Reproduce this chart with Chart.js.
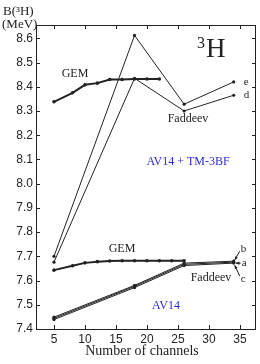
<!DOCTYPE html>
<html>
<head>
<meta charset="utf-8">
<script src="https://cdn.jsdelivr.net/npm/chart.js@4"></script>
<style>
  html, body { margin: 0; padding: 0; background: #fff; }
  #wrap { width: 260px; height: 364px; }
</style>
</head>
<body>
<div id="wrap"><canvas id="c" width="260" height="364"></canvas></div>
<script>
// tick labels
const xTicks = [5, 10, 15, 20, 25, 30, 35];
const yTicks = [7.4, 7.5, 7.6, 7.7, 7.8, 7.9, 8.0, 8.1, 8.2, 8.3, 8.4, 8.5, 8.6];

// AV14 + TM-3BF
const gemTmX = [5, 8, 10, 12, 14, 16, 18, 20, 22];
const gemTmY = [8.338, 8.375, 8.408, 8.415, 8.43, 8.43, 8.432, 8.432, 8.432];
const fadX = [5, 18, 26, 34];
const fadE = [7.700, 8.612, 8.328, 8.420];
const fadD = [7.676, 8.435, 8.300, 8.365];

// AV14
const gemX = [5, 8, 10, 12, 14, 16, 18, 20, 22, 24, 26];
const gemY = [7.643, 7.661, 7.673, 7.678, 7.681, 7.682, 7.682, 7.682, 7.682, 7.682, 7.682];
const fadB = [7.449, 7.580, 7.672, 7.680];
const fadA = [7.444, 7.576, 7.667, 7.676];
const fadC = [7.439, 7.571, 7.662, 7.672];

const pts = (xs, ys) => xs.map((x, i) => ({ x: x, y: ys[i] }));

function series(xs, ys, thick) {
    return {
        data: pts(xs, ys),
        borderColor: '#222',
        backgroundColor: '#222',
        borderWidth: thick ? 2 : 1,
        pointRadius: thick ? 1.8 : 1.6,
        pointBorderWidth: 0,
        tension: 0
    };
}

const serif = '"Liberation Serif", "DejaVu Serif", serif';

function text(ctx, s, x, y, size, color, align) {
    ctx.font = size + 'px ' + serif;
    ctx.fillStyle = color || '#222';
    ctx.textAlign = align || 'center';
    ctx.textBaseline = 'middle';
    ctx.fillText(s, x, y);
}

function arrow(ctx, x1, y1, x2, y2) {
    // line from (x1,y1) with a head at (x2,y2)
    ctx.beginPath();
    ctx.moveTo(x1, y1);
    ctx.lineTo(x2, y2);
    ctx.stroke();
    const a = Math.atan2(y2 - y1, x2 - x1);
    ctx.beginPath();
    ctx.moveTo(x2, y2);
    ctx.lineTo(x2 - 4 * Math.cos(a - 0.4), y2 - 4 * Math.sin(a - 0.4));
    ctx.lineTo(x2 - 4 * Math.cos(a + 0.4), y2 - 4 * Math.sin(a + 0.4));
    ctx.closePath();
    ctx.fill();
}

const frame = {
    id: 'frame',
    afterDraw(chart) {
        const ctx = chart.ctx;
        const a = chart.chartArea;
        const xs = chart.scales.x, ys = chart.scales.y;
        ctx.save();
        ctx.strokeStyle = '#222';
        ctx.fillStyle = '#222';
        ctx.lineWidth = 1;
        ctx.strokeRect(a.left + 0.5, a.top + 0.5, a.right - a.left - 1, a.bottom - a.top);
        ctx.beginPath();
        xTicks.forEach(v => {
            const px = Math.round(xs.getPixelForValue(v)) + 0.5;
            ctx.moveTo(px, a.bottom); ctx.lineTo(px, a.bottom - 4);
            ctx.moveTo(px, a.top); ctx.lineTo(px, a.top + 4);
        });
        yTicks.forEach(v => {
            const py = Math.round(ys.getPixelForValue(v)) + 0.5;
            ctx.moveTo(a.left, py); ctx.lineTo(a.left + 4, py);
            ctx.moveTo(a.right, py); ctx.lineTo(a.right - 4, py);
        });
        ctx.stroke();

        // titles
        text(ctx, 'B(\u00B3H)', 3, 12, 13, '#222', 'left');
        text(ctx, '(MeV)', 2, 25, 13, '#222', 'left');
        text(ctx, 'Number of channels', 142, 351, 14);

        // big 3H
        text(ctx, '3', 197, 44, 16, '#222', 'left');
        text(ctx, 'H', 206, 50, 27, '#222', 'left');

        // annotations
        text(ctx, 'GEM', 75, 74, 12);
        text(ctx, 'Faddeev', 188, 119, 12);
        text(ctx, 'AV14 + TM-3BF', 188, 162, 12, '#2b2bd0');
        text(ctx, 'GEM', 122, 249, 12);
        text(ctx, 'Faddeev', 211, 278, 12);
        text(ctx, 'AV14', 166, 306, 12, '#2b2bd0');

        // curve labels
        const px34 = xs.getPixelForValue(34);
        text(ctx, 'e', px34 + 10, ys.getPixelForValue(fadE[3]), 11, '#222', 'left');
        text(ctx, 'd', px34 + 10, ys.getPixelForValue(fadD[3]), 11, '#222', 'left');
        const pa = ys.getPixelForValue(fadA[3]);
        text(ctx, 'b', px34 + 7, pa - 13, 11, '#222', 'left');
        text(ctx, 'a', px34 + 8, pa + 1, 11, '#222', 'left');
        text(ctx, 'c', px34 + 7, pa + 17, 11, '#222', 'left');
        arrow(ctx, px34 + 6, pa - 11, px34 + 1, pa - 2);
        arrow(ctx, px34 + 7, pa + 1, px34 + 2, pa + 1);
        arrow(ctx, px34 + 6, pa + 14, px34 + 1, pa + 3);
        ctx.restore();
    }
};

new Chart(document.getElementById('c'), {
    type: 'line',
    data: {
        datasets: [
            series(gemTmX, gemTmY, true),
            series(fadX, fadE, false),
            series(fadX, fadD, false),
            series(gemX, gemY, true),
            series(fadX, fadB, false),
            series(fadX, fadA, false),
            series(fadX, fadC, false)
        ]
    },
    options: {
        responsive: false,
        animation: false,
        events: [],
        layout: { padding: { top: 25, right: 3, left: 0, bottom: 0 } },
        plugins: { legend: { display: false }, tooltip: { enabled: false } },
        scales: {
            x: {
                type: 'linear',
                min: 2.1,
                max: 37.6,
                grid: { display: false, drawTicks: false },
                border: { display: false },
                afterBuildTicks: s => { s.ticks = xTicks.map(v => ({ value: v })); },
                afterFit: s => { s.height = 35; },
                ticks: {
                    padding: 3,
                    color: '#222',
                    font: { family: '"Liberation Sans", Arial, sans-serif', size: 12 },
                    callback: v => String(v)
                }
            },
            y: {
                min: 7.4,
                max: 8.655,
                grid: { display: false, drawTicks: false },
                border: { display: false },
                afterBuildTicks: s => { s.ticks = yTicks.map(v => ({ value: v })); },
                afterFit: s => { s.width = 36; },
                ticks: {
                    padding: 3,
                    color: '#222',
                    font: { family: '"Liberation Sans", Arial, sans-serif', size: 12 },
                    callback: v => v.toFixed(1)
                }
            }
        }
    },
    plugins: [frame]
});
</script>
</body>
</html>
